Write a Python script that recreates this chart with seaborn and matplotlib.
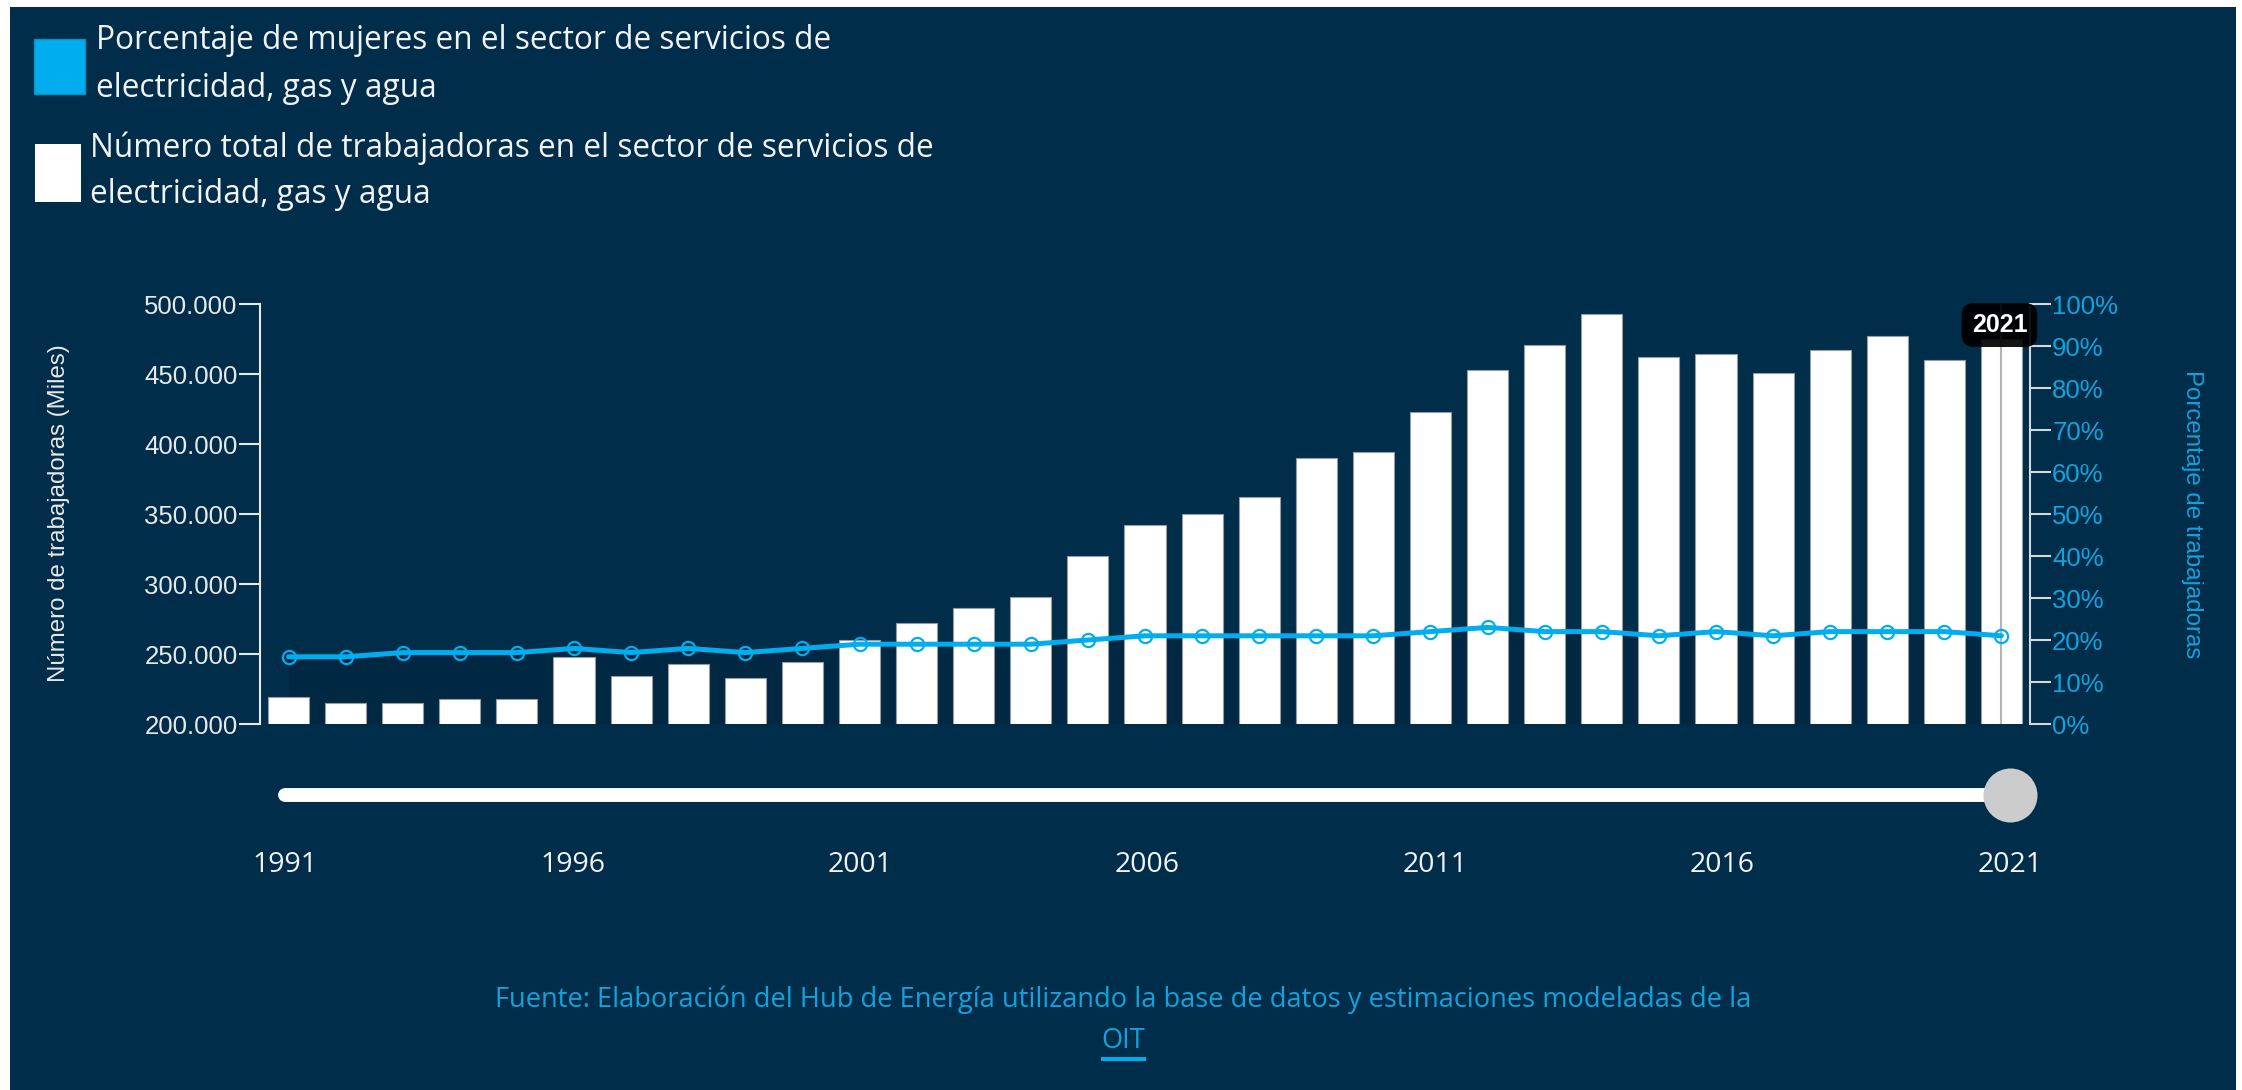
import numpy as np
import pandas as pd

import matplotlib
matplotlib.use("Agg")
import matplotlib.pyplot as plt
from matplotlib.patches import Rectangle
from matplotlib.ticker import FuncFormatter, FixedLocator
import seaborn as sns

# Data
years = list(range(1991, 2022))
workers = [219000, 215000, 215000, 218000, 218000, 248000, 234000, 243000, 233000, 244000,
           260000, 272000, 283000, 291000, 320000, 342000, 350000, 362000, 390000, 394000,
           423000, 453000, 471000, 493000, 462000, 464000, 451000, 467000, 477000, 460000,
           475000]
pct_women = [16, 16, 17, 17, 17, 18, 17, 18, 17, 18,
             19, 19, 19, 19, 20, 21, 21, 21, 21, 21,
             22, 23, 22, 22, 21, 22, 21, 22, 22, 22,
             21]
slider_ticks = [1991, 1996, 2001, 2006, 2011, 2016, 2021]
selected_year = 2021

legend_lines = [
    ["Porcentaje de mujeres en el sector de servicios de", "electricidad, gas y agua"],
    ["Número total de trabajadoras en el sector de servicios de", "electricidad, gas y agua"],
]
source_text = "Fuente: Elaboración del Hub de Energía utilizando la base de datos y estimaciones modeladas de la"
source_link = "OIT"

df = pd.DataFrame({"year": years, "workers": workers, "pct": pct_women})
df["pos"] = np.arange(len(df))

NAVY = "#002d4a"
BLUE = "#00aeef"
BLUE_TXT = "#12a2dc"
W, H = 2242, 1090

sns.set_style("white")
plt.rcParams["font.family"] = ["Liberation Sans", "DejaVu Sans"]

fig = plt.figure(figsize=(W / 100, H / 100), dpi=100, facecolor="white")
fig.patches.append(Rectangle((10 / W, 0), (W - 16) / W, (H - 7) / H,
                             transform=fig.transFigure, facecolor=NAVY,
                             edgecolor="none", zorder=-10))


def fx(px):
    return px / W


def fy(py):
    return 1 - py / H


# main plot area
ax = fig.add_axes([fx(260), fy(724), fx(2030) - fx(260), fy(304) - fy(724)])
ax.set_facecolor("none")

sns.barplot(data=df, x="pos", y="workers", ax=ax, color="white",
            width=0.72, edgecolor="#9a9a9a", linewidth=0.8, saturation=1,
            native_scale=False, zorder=2)

# faint shading under the percentage line
ax.fill_between(df["pos"], 200000 + df["pct"] / 100 * 300000, 200000,
                color="black", alpha=0.10, linewidth=0, zorder=1)

ax.set_xlim(-0.5, len(df) - 0.5)
ax.set_ylim(200000, 500000)
ax.yaxis.set_major_locator(FixedLocator(np.arange(200000, 500001, 50000)))
ax.yaxis.set_major_formatter(FuncFormatter(lambda v, p: f"{int(v):,}".replace(",", ".")))
ax.tick_params(axis="y", colors="#e8e8e8", length=15, width=1.5, labelsize=18.5,
               pad=1, labelcolor="#e8e8e8")
ax.set_xticks([])
ax.set_xlabel("")
ax.set_ylabel("")
for side in ["top", "bottom", "right"]:
    ax.spines[side].set_visible(False)
ax.spines["left"].set_color("#e8e8e8")
ax.spines["left"].set_linewidth(1.5)

# hover line on selected year
sel_pos = years.index(selected_year)
ax.axvline(sel_pos, color="#b5b5b5", lw=1.5, zorder=3)

# percentage axis
ax2 = ax.twinx()
sns.lineplot(data=df, x="pos", y="pct", ax=ax2, color=BLUE, linewidth=3.6,
             marker="o", markersize=9.5, markerfacecolor="none",
             markeredgecolor=BLUE, markeredgewidth=1.6, zorder=4)
ax2.set_ylim(0, 100)
ax2.set_xlim(-0.5, len(df) - 0.5)
ax2.yaxis.set_major_locator(FixedLocator(np.arange(0, 101, 10)))
ax2.yaxis.set_major_formatter(FuncFormatter(lambda v, p: f"{int(v)}%"))
ax2.tick_params(axis="y", colors="#d8d8d8", length=15, width=1.5, labelsize=18.5,
                pad=1, labelcolor=BLUE_TXT)
ax2.set_xlabel("")
ax2.set_ylabel("")
for side in ["top", "bottom", "left"]:
    ax2.spines[side].set_visible(False)
ax2.spines["right"].set_color("#d8d8d8")
ax2.spines["right"].set_linewidth(1.5)

# tooltip
ax2.annotate(str(selected_year), xy=(sel_pos, 100), xytext=(-2, -21),
             textcoords="offset pixels", ha="center", va="center",
             fontsize=18, fontweight="bold", color="white",
             bbox=dict(boxstyle="round,pad=0.4,rounding_size=0.5",
                       facecolor="black", edgecolor="none", alpha=0.92),
             zorder=6, annotation_clip=False)

# axis titles
fig.text(fx(59), fy(513), "Número de trabajadoras (Miles)", rotation=90,
         ha="center", va="center", fontsize=17.3, color="#e8e8e8")
fig.text(fx(2192), fy(514), "Porcentaje de trabajadoras", rotation=270,
         ha="center", va="center", fontsize=17.3, color=BLUE_TXT)

# legend
fig.patches.append(Rectangle((fx(34), fy(94)), fx(51), 55 / H, transform=fig.transFigure,
                             facecolor=BLUE, edgecolor="#0a8fc4", lw=1))
fig.patches.append(Rectangle((fx(35), fy(202)), fx(46), 58 / H, transform=fig.transFigure,
                             facecolor="white", edgecolor="none"))
leg_font = ["Open Sans", "DejaVu Sans"]
for (l1, l2), x0, (b1, b2) in zip(legend_lines, [96, 90], [(49, 97), (157, 203)]):
    fig.text(fx(x0), fy(b1), l1, ha="left", va="baseline", fontsize=22.8,
             color="#f2f2f2", family=leg_font)
    fig.text(fx(x0), fy(b2), l2, ha="left", va="baseline", fontsize=22.8,
             color="#f2f2f2", family=leg_font)

# year slider
axs = fig.add_axes([fx(285), fy(820), fx(2010) - fx(285), 50 / H])
axs.set_facecolor("none")
axs.set_xlim(years[0], years[-1])
axs.set_ylim(0, 1)
axs.plot([years[0], years[-1]], [0.5, 0.5], color="white", lw=10,
         solid_capstyle="round", clip_on=False)
axs.scatter([selected_year], [0.5], s=1513, color="#cccccc", zorder=3,
            clip_on=False, linewidths=0)
axs.set_xticks(slider_ticks)
axs.set_xticklabels([str(t) for t in slider_ticks], family=leg_font, fontsize=20.5,
                    color="#f2f2f2")
axs.tick_params(axis="x", length=0, pad=22)
axs.set_yticks([])
for s in axs.spines.values():
    s.set_visible(False)

# source
fig.text(fx(1123), fy(1000), source_text, ha="center", va="center", fontsize=19.6,
         color=BLUE_TXT, family=leg_font)
fig.text(fx(1123), fy(1041), source_link, ha="center", va="center", fontsize=19.6,
         color=BLUE_TXT, family=leg_font)
fig.patches.append(Rectangle((fx(1101), fy(1061)), fx(45), 4 / H, transform=fig.transFigure,
                             facecolor=BLUE, edgecolor="none"))

fig.savefig("out.png", dpi=100, facecolor="white")
